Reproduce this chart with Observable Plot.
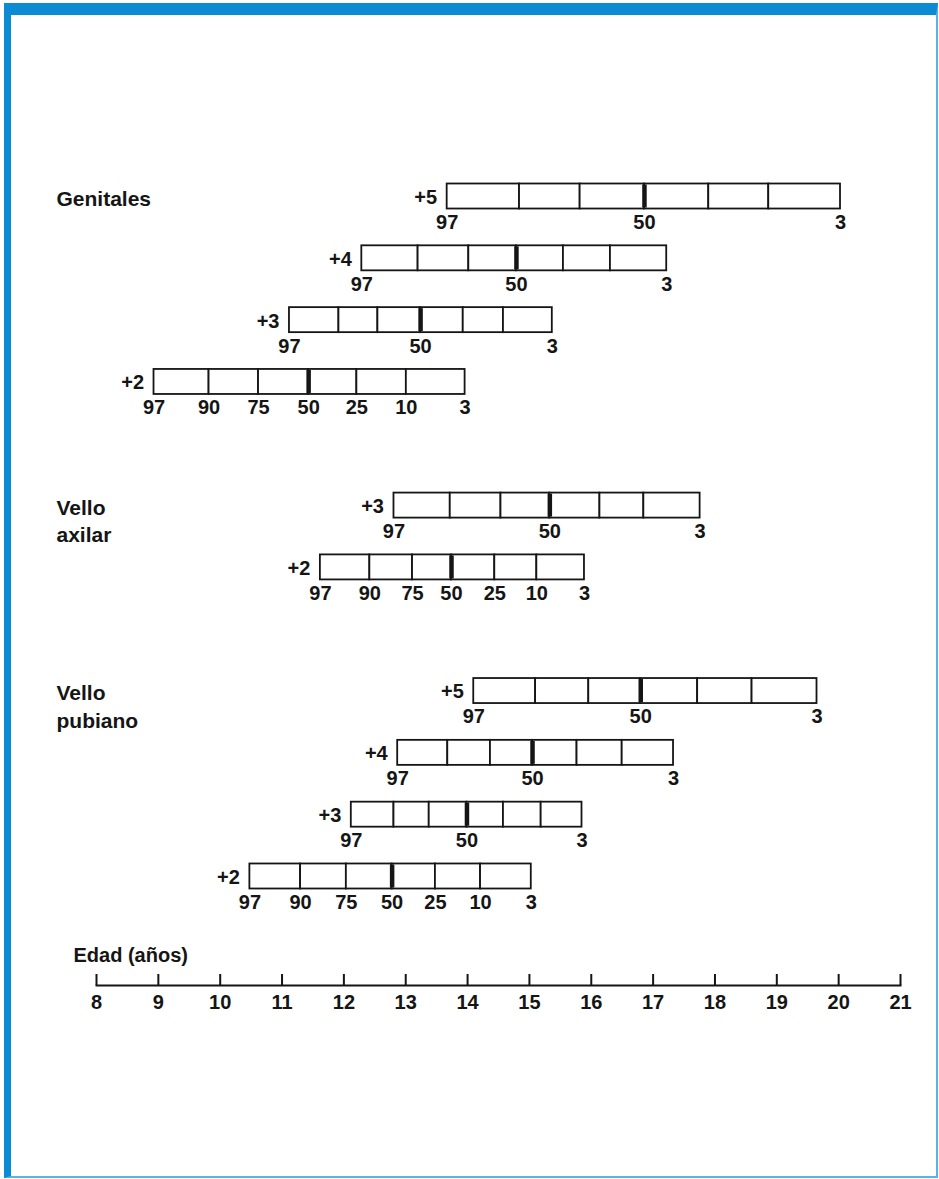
<!DOCTYPE html>
<html>
<head>
<meta charset="utf-8">
<script src="https://cdn.jsdelivr.net/npm/d3@7"></script>
<script src="https://cdn.jsdelivr.net/npm/@observablehq/plot@0.6"></script>
<style>
  html, body { margin: 0; padding: 0; background: #fff; }
  #wrap { position: relative; width: 939px; height: 1179px; overflow: hidden; }
  #chart { position: absolute; left: 0; top: 0; }
  #border {
    position: absolute; left: 4px; top: 3px; width: 934px; height: 1175px;
    box-sizing: border-box; pointer-events: none; z-index: 2;
    border-top: 12px solid #0b8bd3; border-left: 7px solid #0b8bd3;
    border-right: 2px solid #5ab4e6; border-bottom: 2px solid #5ab4e6;
  }
</style>
</head>
<body>
<div id="wrap"><div id="chart"></div><div id="border"></div></div>
<script>
// Percentile labels for each bar
const percentiles = [97, 90, 75, 50, 25, 10, 3];

// Ages (years) at which each percentile reaches the stage
const genitales5 = [13.67, 14.84, 15.82, 16.86, 17.90, 18.87, 20.03];
const genitales4 = [12.29, 13.20, 14.02, 14.79, 15.55, 16.31, 17.22];
const genitales3 = [11.12, 11.92, 12.55, 13.24, 13.93, 14.58, 15.37];
const genitales2 = [8.93, 9.82, 10.62, 11.43, 12.21, 13.01, 13.96];
const axilar3 = [12.81, 13.72, 14.54, 15.33, 16.14, 16.85, 17.76];
const axilar2 = [11.62, 12.42, 13.11, 13.74, 14.44, 15.12, 15.89];
const pubiano5 = [14.10, 15.10, 15.96, 16.80, 17.72, 18.60, 19.65];
const pubiano4 = [12.87, 13.68, 14.37, 15.05, 15.77, 16.50, 17.33];
const pubiano3 = [12.12, 12.81, 13.38, 13.99, 14.58, 15.19, 15.85];
const pubiano2 = [10.48, 11.30, 12.04, 12.78, 13.48, 14.21, 15.03];

// Row order (blank rows separate the groups)
const rowOrder = ["G5", "G4", "G3", "G2", "sep1", "A3", "A2", "sep2", "P5", "P4", "P3", "P2"];
const rowIds = ["G5", "G4", "G3", "G2", "A3", "A2", "P5", "P4", "P3", "P2"];
const stageLabels = ["+5", "+4", "+3", "+2", "+3", "+2", "+5", "+4", "+3", "+2"];
const rowAges = [genitales5, genitales4, genitales3, genitales2, axilar3, axilar2, pubiano5, pubiano4, pubiano3, pubiano2];

// Group titles and the row they sit beside
const groupTitles = ["Genitales", "Vello\naxilar", "Vello\npubiano"];
const groupRows = ["G5", "A3", "P5"];

// Axis
const years = [8, 9, 10, 11, 12, 13, 14, 15, 16, 17, 18, 19, 20, 21];
const axisTitle = "Edad (años)";

// Build tables
const rows = rowIds.map((id, i) => ({ row: id, stage: stageLabels[i], ages: rowAges[i], full: stageLabels[i] === "+2" }));
const cells = rows.flatMap(r => r.ages.slice(0, -1).map((a, i) => ({ row: r.row, x1: a, x2: r.ages[i + 1] })));
const labels = rows.flatMap(r => r.ages.map((a, i) => ({ row: r.row, x: a, p: percentiles[i] }))
  .filter(d => r.full || d.p === 97 || d.p === 50 || d.p === 3));
const groups = groupTitles.map((t, i) => ({ text: t, row: groupRows[i] }));

const FONT = '"Liberation Sans", Arial, Helvetica, sans-serif';
const ink = "#151515";
const inset = 18.4;

const plot = Plot.plot({
  width: 939,
  height: 1179,
  marginLeft: 96,
  marginRight: 39,
  marginTop: 20,
  marginBottom: 194,
  style: { fontFamily: FONT, fontWeight: "bold", color: ink, background: "transparent" },
  x: { domain: [8, 21], axis: null },
  y: { type: "band", domain: rowOrder, range: [165.1, 906.9], padding: 0, round: false, axis: null },
  marks: [
    Plot.barX(cells, { x1: "x1", x2: "x2", y: "row", fill: "white", stroke: ink, strokeWidth: 1.8, insetTop: inset, insetBottom: inset }),
    Plot.tickX(rows, { x: r => r.ages[3], y: "row", stroke: ink, strokeWidth: 4.5, insetTop: inset + 1, insetBottom: inset + 1 }),
    Plot.text(labels, { x: "x", y: "row", text: d => String(d.p), dy: 26, fontSize: 20, fill: ink }),
    Plot.text(rows, { x: r => r.ages[0], y: "row", text: "stage", textAnchor: "end", dx: -10, dy: 1, fontSize: 20, fill: ink }),
    Plot.text(groups, { y: "row", text: "text", frameAnchor: "left", dx: -40, textAnchor: "start", lineAnchor: "top", dy: -10, lineHeight: 1.3, fontSize: 21, fill: ink }),
    Plot.frame({ anchor: "bottom", stroke: ink, strokeWidth: 2 }),
    Plot.axisX({ ticks: years, tickFormat: d => String(d), tickSize: -11, tickPadding: 20, strokeWidth: 2, stroke: ink, fontSize: 20, fill: ink }),
    Plot.text([axisTitle], { frameAnchor: "bottom-left", text: d => d, dx: -23, dy: -24, textAnchor: "start", fontSize: 20, fill: ink })
  ]
});
document.getElementById("chart").appendChild(plot);
</script>
</body>
</html>
